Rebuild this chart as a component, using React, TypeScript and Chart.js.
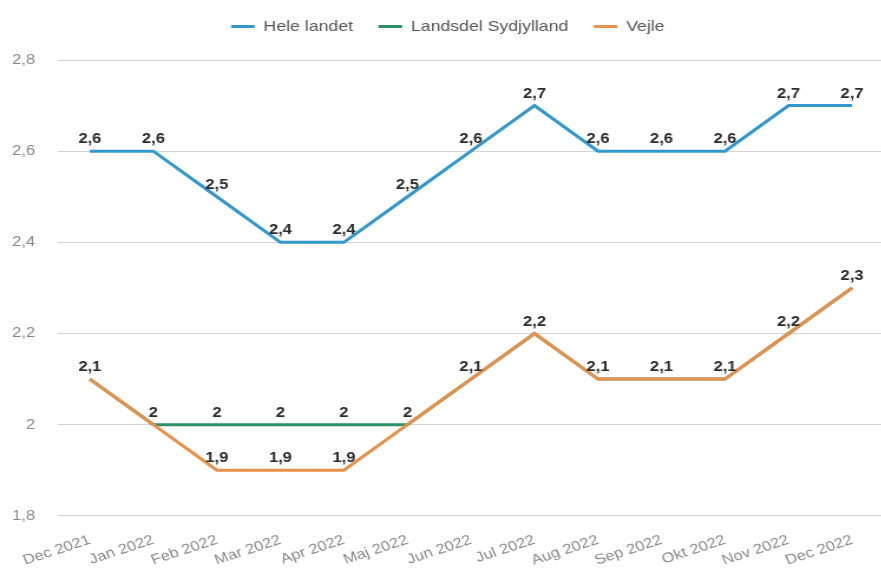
import React, { useEffect, useRef } from 'react';
import { Chart, registerables } from 'chart.js';

Chart.register(...registerables);

const categories = ['Dec 2021', 'Jan 2022', 'Feb 2022', 'Mar 2022', 'Apr 2022', 'Maj 2022', 'Jun 2022', 'Jul 2022', 'Aug 2022', 'Sep 2022', 'Okt 2022', 'Nov 2022', 'Dec 2022'];
const heleLandet = [2.6, 2.6, 2.5, 2.4, 2.4, 2.5, 2.6, 2.7, 2.6, 2.6, 2.6, 2.7, 2.7];
const landsdelSydjylland = [2.1, 2, 2, 2, 2, 2, 2.1, 2.2, 2.1, 2.1, 2.1, 2.2, 2.3];
const vejle = [2.1, 2, 1.9, 1.9, 1.9, 2, 2.1, 2.2, 2.1, 2.1, 2.1, 2.2, 2.3];
const seriesNames = ['Hele landet', 'Landsdel Sydjylland', 'Vejle'];
const seriesColors = ['#3399cc', '#2e9166', '#e8914b'];
const yMin = 1.8;
const yMax = 2.8;
const yStep = 0.2;

const STRETCH = 1.18;
const FONT = '"Liberation Sans", Arial, sans-serif';

const fmt = (v: number) => String(Number(v.toFixed(1))).replace('.', ',');

const dataLabels = {
  id: 'dataLabels',
  afterDatasetsDraw(chart: any) {
    const ctx = chart.ctx;
    const seen: string[] = [];
    ctx.save();
    ctx.font = `bold 14px ${FONT}`;
    ctx.fillStyle = '#2b2b2b';
    ctx.textAlign = 'center';
    ctx.textBaseline = 'alphabetic';
    chart.data.datasets.forEach((ds: any, i: number) => {
      const meta = chart.getDatasetMeta(i);
      meta.data.forEach((pt: any, j: number) => {
        const key = Math.round(pt.x) + ':' + Math.round(pt.y);
        if (seen.includes(key)) return;
        seen.push(key);
        ctx.fillText(fmt(ds.data[j]), pt.x, pt.y - 8);
      });
    });
    ctx.restore();
  },
};

const legendHeight = {
  id: 'legendHeight',
  beforeInit(chart: any) {
    const fit = chart.legend.fit;
    chart.legend.fit = function () {
      fit.bind(chart.legend)();
      this.height = 62.5;
    };
  },
};

export default function App() {
  const ref = useRef<HTMLCanvasElement>(null);
  useEffect(() => {
    document.body.style.margin = '0';
    const chart: any = new Chart(ref.current as HTMLCanvasElement, {
      type: 'line',
      data: {
        labels: categories,
        datasets: [
          { label: seriesNames[0], data: heleLandet, borderColor: seriesColors[0], backgroundColor: seriesColors[0], order: 1 },
          { label: seriesNames[1], data: landsdelSydjylland, borderColor: seriesColors[1], backgroundColor: seriesColors[1], order: 2 },
          { label: seriesNames[2], data: vejle, borderColor: seriesColors[2], backgroundColor: seriesColors[2], order: 0 },
        ].map((d) => ({ ...d, borderWidth: 3, pointRadius: 0, pointHoverRadius: 0, tension: 0, fill: false })),
      },
      options: {
        animation: false,
        responsive: false,
        devicePixelRatio: 1,
        layout: { padding: { left: 10, right: 3, top: -2.5, bottom: 0 } },
        plugins: {
          tooltip: { enabled: false },
          legend: {
            position: 'top',
            labels: {
              boxWidth: 20,
              boxHeight: 3,
              padding: 21.5,
              color: '#555',
              font: { family: FONT, size: 15 },
              sort: (a: any, b: any) => a.datasetIndex - b.datasetIndex,
              generateLabels: (c: any) =>
                Chart.defaults.plugins.legend.labels.generateLabels(c).map((it: any) => ({
                  ...it,
                  fillStyle: seriesColors[it.datasetIndex],
                  lineWidth: 0,
                })),
            },
          },
        },
        scales: {
          x: {
            offset: true,
            grid: { display: false, drawTicks: false },
            border: { display: false },
            afterFit: (s: any) => {
              s.paddingLeft = 0;
              s.paddingRight = 0;
              s.height -= 17;
            },
            ticks: {
              autoSkip: false,
              minRotation: 21,
              maxRotation: 21,
              padding: 16,
              color: '#888',
              font: { family: FONT, size: 14 },
            },
          },
          y: {
            min: yMin,
            max: yMax,
            grid: { color: '#d4d4d4', lineWidth: 1, drawTicks: false },
            border: { display: false },
            afterFit: (s: any) => {
              s.width = 39.2;
            },
            ticks: {
              stepSize: yStep,
              padding: 19.5,
              color: '#888',
              font: { family: FONT, size: 14 },
              callback: (v: any) => fmt(Number(v)),
            },
          },
        },
      },
      plugins: [dataLabels, legendHeight],
    });
    return () => chart.destroy();
  }, []);
  return (
    <div style={{ position: 'fixed', left: 0, top: 0, width: 881, height: 568, overflow: 'hidden', background: '#fff' }}>
      <div style={{ width: 752, height: 568, transform: `scaleX(${STRETCH})`, transformOrigin: '0 0' }}>
        <canvas ref={ref} width={752} height={568} style={{ display: 'block', width: 752, height: 568 }} />
      </div>
    </div>
  );
}
